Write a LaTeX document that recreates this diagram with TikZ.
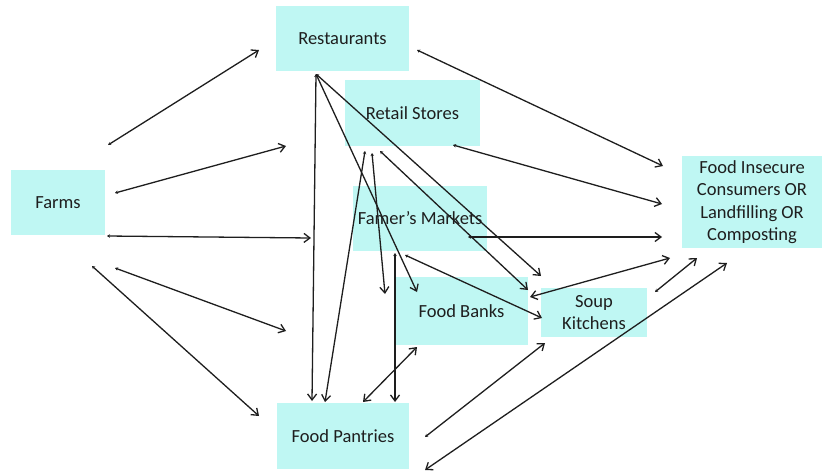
\documentclass[tikz,border=0pt]{standalone}
\usepackage{fontspec}
\setmainfont{Carlito}
\usetikzlibrary{arrows.meta}
\definecolor{boxfill}{RGB}{191,247,243}
\definecolor{ink}{RGB}{30,30,30}
\begin{document}
\begin{tikzpicture}[x=1pt,y=-1pt,
  box/.style={fill=boxfill, inner sep=0pt, align=center, text=ink,
    font=\fontsize{18.5}{22.5}\selectfont},
  link/.style={draw=ink, line width=1.3pt,
    {Stealth[length=3pt,width=3.5pt]}-{Straight Barb[length=6pt,width=9pt]}},
  dlink/.style={draw=ink, line width=1.3pt,
    {Straight Barb[length=6pt,width=9pt]}-{Straight Barb[length=6pt,width=9pt]}}]
\useasboundingbox (0,0) rectangle (822,474);
\fill[white] (0,0) rectangle (822,474);

\node[box, minimum width=94pt, minimum height=65pt] (farms) at (58,202.5) {Farms};
\node[box, minimum width=133pt, minimum height=65pt] (rest) at (342.5,38.5) {Restaurants};
\node[box, minimum width=135pt, minimum height=66pt] (retail) at (412.5,113) {Retail Stores};
\node[box, minimum width=134pt, minimum height=65pt] (market) at (420,218.5) {Famer’s Markets};
\node[box, minimum width=133pt, minimum height=68pt] (banks) at (461.5,311) {Food Banks};
\node[box, minimum width=106pt, minimum height=49pt] (soup) at (594,312.5) {Soup\\Kitchens};
\node[box, minimum width=140pt, minimum height=92pt] (insec) at (752,202) {Food Insecure\\Consumers OR\\Landfilling OR\\Composting};
\node[box, minimum width=132pt, minimum height=66pt] (pantry) at (343,436) {Food Pantries};

% endpoints
\coordinate (f1) at (108,145);  \coordinate (f1e) at (259,50);
\coordinate (f2) at (115,193);  \coordinate (f2e) at (286,146);
\coordinate (f3) at (107,236);  \coordinate (f3e) at (311,238);
\coordinate (f4) at (115,268);  \coordinate (f4e) at (286,331);
\coordinate (f5) at (92,266);   \coordinate (f5e) at (259,416);
\coordinate (r0) at (417,50);   \coordinate (r0e) at (663,166);
\coordinate (rb) at (316,74);
\coordinate (r1e) at (312,401);
\coordinate (r2e) at (541,276);
\coordinate (r3e) at (417,292);
\coordinate (s1) at (380,151);  \coordinate (s1e) at (528,290);
\coordinate (s2) at (365,151);  \coordinate (s2e) at (325,402);
\coordinate (s3) at (372,153);  \coordinate (s3e) at (385,294);
\coordinate (s4) at (453,145);  \coordinate (s4e) at (662,204);
\coordinate (m1) at (395,253);  \coordinate (m1e) at (395,402);
\coordinate (m2) at (405,255);  \coordinate (m2e) at (542,318);
\coordinate (m3) at (468,237);  \coordinate (m3e) at (662,237);
\coordinate (b1) at (530,297);  \coordinate (b1e) at (670,258);
\coordinate (b2) at (417,347);  \coordinate (b2e) at (363,402);
\coordinate (k1) at (655,292);  \coordinate (k1e) at (697,258);
\coordinate (p1) at (425,437);  \coordinate (p1e) at (545,343);
\coordinate (p2) at (425,470);  \coordinate (p2e) at (727,263);

\draw[link] (f1) -- (f1e);
\draw[link] (f2) -- (f2e);
\draw[link] (f3) -- (f3e);
\draw[link] (f4) -- (f4e);
\draw[link] (f5) -- (f5e);
\draw[link] (r0) -- (r0e);
\draw[link] (rb) -- (r1e);
\draw[link] (rb) -- (r2e);
\draw[link] (rb) -- (r3e);
\draw[link] (s1) -- (s1e);
\draw[link] (s2) -- (s2e);
\draw[link] (s3) -- (s3e);
\draw[link] (s4) -- (s4e);
\draw[link] (m1) -- (m1e);
\draw[link] (m2) -- (m2e);
\draw[link] (m3) -- (m3e);
\draw[dlink] (b1) -- (b1e);
\draw[dlink] (b2) -- (b2e);
\draw[link] (k1) -- (k1e);
\draw[link] (p1) -- (p1e);
\draw[dlink] (p2) -- (p2e);
\end{tikzpicture}
\end{document}
